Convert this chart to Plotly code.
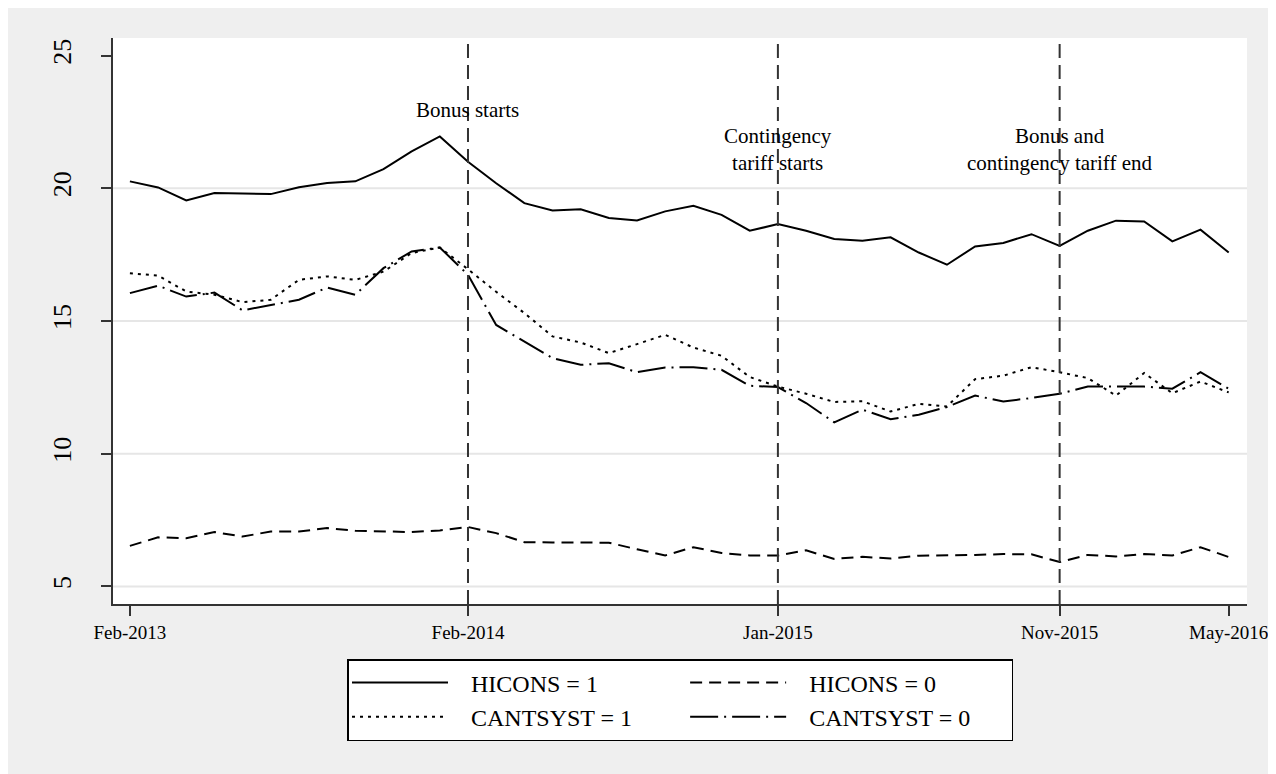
import plotly.graph_objects as go
import pandas as pd

# ---- data ----
months = pd.date_range("2013-02-01", periods=40, freq="MS").strftime("%b-%Y").tolist()

hicons_1 = [20.26, 20.03, 19.54, 19.82, 19.80, 19.78, 20.04, 20.20, 20.26, 20.72,
            21.39, 21.95, 21.00, 20.19, 19.44, 19.16, 19.21, 18.88, 18.79, 19.13,
            19.34, 19.00, 18.40, 18.65, 18.40, 18.09, 18.02, 18.15, 17.58, 17.12,
            17.81, 17.94, 18.27, 17.83, 18.40, 18.78, 18.75, 18.00, 18.44, 17.58]

hicons_0 = [6.53, 6.85, 6.82, 7.05, 6.88, 7.07, 7.07, 7.20, 7.10, 7.07,
            7.05, 7.11, 7.24, 7.01, 6.67, 6.66, 6.66, 6.65, 6.40, 6.17,
            6.48, 6.26, 6.17, 6.17, 6.36, 6.04, 6.12, 6.05, 6.16, 6.17,
            6.19, 6.22, 6.21, 5.92, 6.19, 6.13, 6.22, 6.17, 6.48, 6.11]

cantsyst_1 = [16.80, 16.71, 16.11, 15.99, 15.71, 15.80, 16.55, 16.68, 16.55, 16.86,
              17.56, 17.77, 16.95, 16.10, 15.30, 14.42, 14.19, 13.79, 14.13, 14.48,
              14.00, 13.69, 12.89, 12.53, 12.26, 11.95, 11.98, 11.59, 11.88, 11.78,
              12.81, 12.94, 13.26, 13.07, 12.85, 12.19, 13.04, 12.28, 12.72, 12.31]

cantsyst_0 = [16.05, 16.33, 15.92, 16.07, 15.40, 15.61, 15.80, 16.26, 15.99, 16.99,
              17.62, 17.77, 16.74, 14.85, 14.23, 13.60, 13.35, 13.41, 13.07, 13.25,
              13.26, 13.16, 12.56, 12.51, 11.91, 11.18, 11.66, 11.30, 11.47, 11.76,
              12.19, 11.97, 12.10, 12.26, 12.53, 12.53, 12.53, 12.45, 13.07, 12.45]

series_names = ["HICONS = 1", "HICONS = 0", "CANTSYST = 1", "CANTSYST = 0"]
series_values = [hicons_1, hicons_0, cantsyst_1, cantsyst_0]
series_dash = ["solid", "12px,7px", "3px,5px", "28px,6px,2px,6px"]
series_group = ["a", "b", "a", "b"]

x_tick_labels = ["Feb-2013", "Feb-2014", "Jan-2015", "Nov-2015", "May-2016"]
y_tick_values = [5, 10, 15, 20, 25]
grid_values = [5, 10, 15, 20]

event_months = ["Feb-2014", "Jan-2015", "Nov-2015"]
event_labels = ["Bonus starts", "Contingency<br>tariff starts", "Bonus and<br>contingency tariff end"]
event_label_y = [22.95, 21.45, 21.45]

# ---- geometry (figure pixel coordinates) ----
W, H = 1276, 774
ML, MR, MT, MB = 105, 37, 30, 178
PW, PH = W - ML - MR, H - MT - MB


def fx(px):
    return (px - ML) / PW


def fy(py):
    return (H - MB - py) / PH


FONT = "Liberation Serif, Times New Roman, serif"
AXIS_COL = "#333333"
NB = "\u00a0"
LEAD = NB * 3
TRAIL = {"a": NB * 8, "b": NB * 6}

fig = go.Figure()
for name, vals, dash, grp in zip(series_names, series_values, series_dash, series_group):
    fig.add_trace(go.Scatter(
        x=months, y=vals, mode="lines", name=LEAD + name + TRAIL[grp], legendgroup=grp,
        line=dict(color="black", width=2, dash=dash),
    ))

shapes = []
for g in grid_values:
    shapes.append(dict(type="line", xref="paper", yref="y", layer="below",
                       x0=0, x1=1, y0=g, y1=g, line=dict(color="#E6E6E6", width=2)))
for m in event_months:
    shapes.append(dict(type="line", xref="x", yref="paper", x0=m, x1=m, y0=0, y1=1,
                       line=dict(color=AXIS_COL, width=2, dash="14px,7px")))

annotations = []
for m, lab, yy in zip(event_months, event_labels, event_label_y):
    annotations.append(dict(x=m, y=yy, xref="x", yref="y", text=lab, showarrow=False,
                            xanchor="center", yanchor="middle",
                            font=dict(family=FONT, size=21, color="black")))

fig.update_layout(
    width=W, height=H,
    margin=dict(l=ML, r=MR, t=MT, b=MB, autoexpand=False),
    paper_bgcolor="#EFEFEF", plot_bgcolor="white",
    font=dict(family=FONT, color="black"),
    shapes=shapes, annotations=annotations,
    showlegend=True,
    legend=dict(
        orientation="h", traceorder="grouped",
        x=fx(339), y=fy(651), xanchor="left", yanchor="top",
        itemwidth=96, font=dict(family=FONT, size=24, color="black"),
        bgcolor="white", bordercolor="black", borderwidth=1.5,
    ),
    xaxis=dict(
        type="category", categoryorder="array", categoryarray=months,
        range=[-0.6, 39.65], tickvals=x_tick_labels, ticktext=x_tick_labels,
        ticks="outside", ticklen=10, tickwidth=1.5, tickcolor=AXIS_COL,
        showline=True, linecolor=AXIS_COL, linewidth=1.5,
        showgrid=False, zeroline=False,
        tickfont=dict(family=FONT, size=19, color="black"),
    ),
    yaxis=dict(
        range=[4.34, 25.66], tickvals=y_tick_values, tickangle=-90,
        ticks="outside", ticklen=10, tickwidth=1.5, tickcolor=AXIS_COL,
        showline=True, linecolor=AXIS_COL, linewidth=1.5,
        showgrid=False, zeroline=False, ticklabelstandoff=20,
        tickfont=dict(family=FONT, size=26, color="black"),
    ),
)

fig.write_html("out.html")
